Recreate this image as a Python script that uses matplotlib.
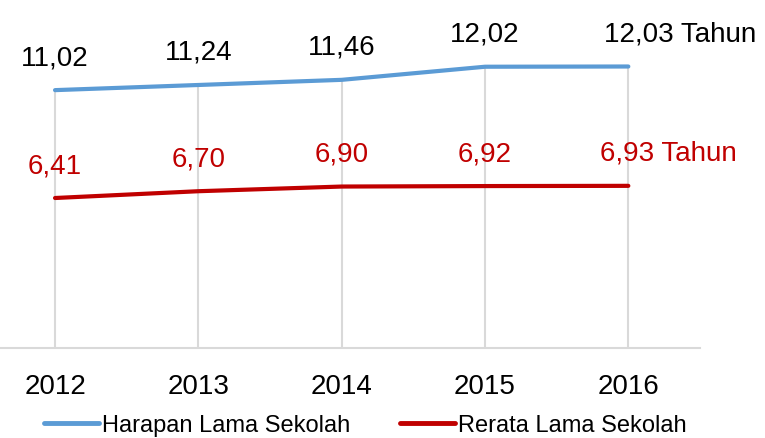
import matplotlib
matplotlib.use("Agg")
import matplotlib.pyplot as plt

years = ["2012", "2013", "2014", "2015", "2016"]
harapan = [11.02, 11.24, 11.46, 12.02, 12.03]
rerata = [6.41, 6.70, 6.90, 6.92, 6.93]
harapan_labels = ["11,02", "11,24", "11,46", "12,02", "12,03 Tahun"]
rerata_labels = ["6,41", "6,70", "6,90", "6,92", "6,93 Tahun"]
series_names = ["Harapan Lama Sekolah", "Rerata Lama Sekolah"]

plt.rcParams['font.family'] = ['Liberation Sans', 'DejaVu Sans']

W, H = 765, 439
fig = plt.figure(figsize=(W / 100, H / 100), dpi=100)
ax = fig.add_axes([0, 90 / H, 700 / W, 327.6 / H])

blue = "#5B9BD5"
red = "#C00000"
grid_c = "#D9D9D9"
x = list(range(len(years)))

# drop lines
ax.vlines(x, 0, harapan, colors=grid_c, linewidth=1.5, zorder=1)
ax.plot(x, harapan, color=blue, linewidth=3.0, solid_capstyle='round', zorder=3, label=series_names[0])
ax.plot(x, rerata, color=red, linewidth=3.0, solid_capstyle='round', zorder=3, label=series_names[1])

ax.set_xlim(-0.384, 4.5)
ax.set_ylim(0, 14)
for s in ["top", "right", "left"]:
    ax.spines[s].set_visible(False)
ax.spines["bottom"].set_color(grid_c)
ax.spines["bottom"].set_linewidth(1.5)
ax.set_yticks([])
ax.set_xticks(x)
ax.set_xticklabels(years, fontsize=20)
ax.tick_params(axis='x', length=0, pad=18)

for i, (v, lab) in enumerate(zip(harapan, harapan_labels)):
    if i == len(harapan) - 1:
        ax.annotate(lab, (i, v), xytext=(-24, 33), textcoords='offset pixels',
                    ha='left', va='center', fontsize=20, color='#000000')
    else:
        ax.annotate(lab, (i, v), xytext=(0, 33), textcoords='offset pixels',
                    ha='center', va='center', fontsize=20, color='#000000')
for i, (v, lab) in enumerate(zip(rerata, rerata_labels)):
    if i == len(rerata) - 1:
        ax.annotate(lab, (i, v), xytext=(-28, 33), textcoords='offset pixels',
                    ha='left', va='center', fontsize=20, color=red)
    else:
        ax.annotate(lab, (i, v), xytext=(0, 33), textcoords='offset pixels',
                    ha='center', va='center', fontsize=20, color=red)

leg = fig.legend(loc='center', bbox_to_anchor=(0.477, 13 / H), ncol=2, frameon=False,
                 fontsize=17, handlelength=2.33, handletextpad=0.13, columnspacing=2.1,
                 borderpad=0, borderaxespad=0)
for line in leg.get_lines():
    line.set_linewidth(3.5)

fig.savefig("out.png", dpi=100)
